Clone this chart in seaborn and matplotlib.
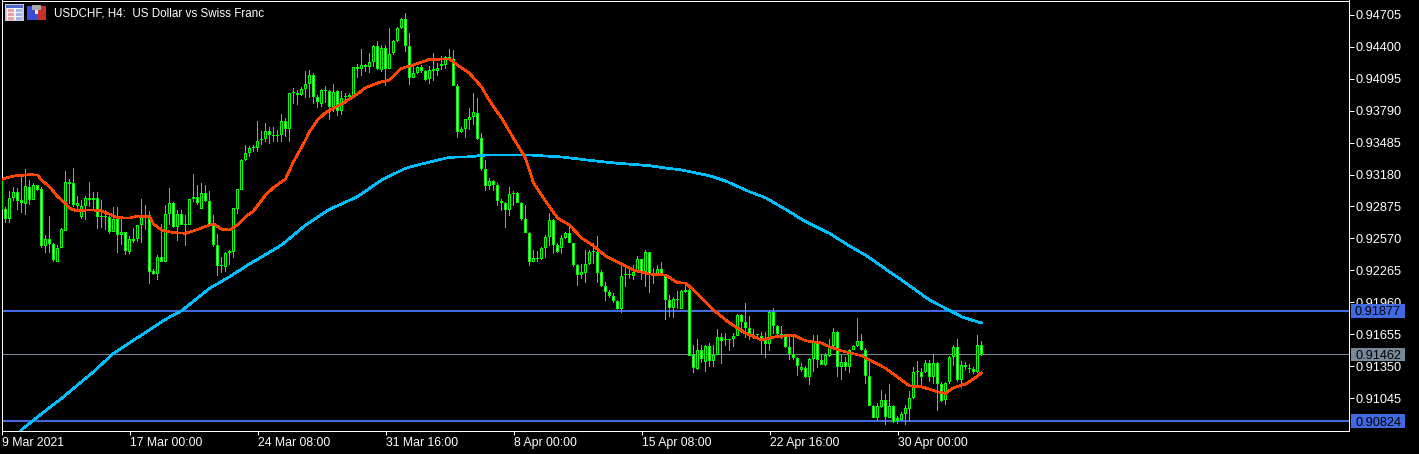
import numpy as np
import pandas as pd
import matplotlib
matplotlib.use("Agg")
import matplotlib.pyplot as plt
from matplotlib.patches import Rectangle
from matplotlib.transforms import blended_transform_factory
import seaborn as sns

# Prices are written in units of 0.0001
highs = [
 9314,9287,9302,9306,9305,9318,9323,9313,9310,9308,
 9306,9260,9278,9253,9251,9267,9321,9314,9324,9298,
 9294,9298,9311,9301,9301,9294,9284,9278,9287,9287,
 9278,9263,9259,9267,9270,9295,9289,9283,9228,9241,
 9271,9289,9305,9292,9284,9284,9279,9295,9319,9308,
 9310,9308,9302,9279,9261,9239,9244,9246,9286,9304,
 9333,9346,9345,9346,9369,9360,9367,9363,9363,9361,
 9376,9372,9396,9401,9399,9402,9417,9418,9415,9394,
 9400,9403,9399,9405,9399,9398,9396,9396,9421,9424,
 9438,9424,9434,9442,9446,9442,9442,9458,9447,9459,
 9468,9472,9453,9423,9422,9423,9418,9422,9434,9425,
 9431,9431,9438,9437,9405,9363,9371,9382,9396,9391,
 9358,9332,9315,9313,9310,9295,9292,9306,9302,9301,
 9292,9289,9263,9246,9245,9249,9260,9281,9276,9253,
 9260,9263,9269,9253,9233,9233,9246,9246,9253,9259,
 9227,9215,9208,9205,9198,9233,9233,9230,9232,9240,
 9237,9246,9244,9229,9232,9234,9221,9203,9201,9207,
 9208,9215,9209,9155,9161,9155,9155,9157,9155,9170,
 9167,9167,9161,9167,9185,9185,9195,9183,9170,9166,
 9168,9168,9189,9191,9174,9173,9166,9164,9166,9144,
 9138,9135,9143,9165,9165,9147,9148,9161,9171,9169,
 9146,9144,9151,9155,9181,9166,9152,9142,9098,9100,
 9112,9108,9118,9098,9087,9091,9098,9111,9134,9140,
 9133,9141,9141,9147,9139,9120,9120,9145,9155,9161,
 9140,9139,9137,9134,9165,9159]
lows = [
 9284,9272,9272,9293,9284,9281,9279,9289,9294,9302,
 9248,9243,9243,9234,9234,9248,9264,9290,9287,9283,
 9276,9275,9287,9283,9266,9267,9265,9261,9263,9243,
 9251,9241,9242,9253,9254,9253,9265,9213,9222,9217,
 9234,9234,9270,9267,9255,9270,9250,9270,9292,9289,
 9285,9292,9268,9249,9221,9224,9225,9232,9238,9280,
 9303,9331,9335,9340,9340,9346,9349,9347,9349,9349,
 9349,9354,9349,9385,9384,9393,9391,9391,9385,9382,
 9383,9386,9370,9378,9374,9375,9385,9389,9392,9410,
 9412,9416,9415,9421,9418,9416,9403,9419,9432,9445,
 9457,9435,9404,9410,9414,9415,9407,9405,9407,9412,
 9418,9419,9428,9403,9353,9358,9353,9361,9365,9351,
 9321,9302,9303,9302,9288,9283,9267,9278,9288,9291,
 9274,9262,9231,9234,9234,9236,9238,9250,9242,9243,
 9242,9256,9253,9230,9212,9218,9214,9232,9233,9214,
 9211,9197,9200,9195,9189,9186,9211,9218,9217,9224,
 9217,9211,9205,9213,9221,9221,9179,9182,9181,9190,
 9190,9205,9145,9128,9131,9138,9129,9134,9134,9146,
 9137,9154,9149,9153,9164,9167,9162,9160,9161,9160,
 9146,9143,9149,9166,9163,9161,9152,9141,9141,9126,
 9129,9124,9117,9129,9133,9136,9135,9144,9153,9125,
 9122,9130,9128,9150,9153,9149,9118,9097,9085,9083,
 9095,9079,9085,9081,9080,9083,9079,9082,9104,9115,
 9115,9128,9120,9118,9092,9101,9098,9118,9135,9120,
 9114,9131,9128,9127,9128,9145]
opens = [
 9284,9285,9276,9296,9301,9294,9290,9306,9294,9308,
 9304,9250,9256,9252,9234,9248,9264,9309,9310,9288,
 9277,9288,9296,9296,9296,9278,9278,9277,9263,9276,
 9260,9263,9244,9256,9256,9270,9277,9279,9226,9223,
 9239,9234,9280,9291,9268,9280,9271,9270,9295,9297,
 9285,9300,9293,9270,9251,9231,9230,9243,9244,9285,
 9303,9332,9339,9343,9343,9351,9352,9360,9356,9355,
 9356,9369,9362,9397,9394,9394,9400,9405,9413,9392,
 9385,9398,9398,9383,9398,9379,9392,9392,9393,9419,
 9419,9423,9421,9426,9441,9418,9439,9419,9434,9446,
 9458,9467,9441,9410,9415,9421,9417,9409,9417,9417,
 9422,9423,9428,9428,9403,9359,9362,9370,9373,9377,
 9353,9323,9307,9312,9308,9293,9291,9284,9299,9300,
 9291,9276,9262,9234,9237,9237,9248,9258,9275,9251,
 9248,9257,9262,9253,9232,9222,9224,9233,9244,9244,
 9225,9212,9206,9202,9197,9190,9222,9222,9221,9225,
 9237,9225,9244,9223,9223,9228,9221,9198,9191,9198,
 9190,9206,9208,9146,9132,9150,9139,9154,9140,9146,
 9163,9160,9160,9161,9164,9184,9177,9171,9165,9165,
 9164,9161,9156,9187,9173,9165,9166,9153,9147,9143,
 9131,9133,9125,9142,9158,9141,9136,9145,9154,9168,
 9134,9139,9134,9150,9154,9159,9150,9126,9097,9085,
 9096,9103,9085,9097,9083,9084,9089,9094,9105,9130,
 9129,9129,9138,9125,9138,9118,9103,9120,9144,9153,
 9122,9136,9132,9132,9129,9155]
closes = [
 9314,9276,9296,9301,9293,9291,9307,9294,9308,9303,
 9250,9256,9252,9236,9248,9266,9311,9311,9289,9291,
 9288,9296,9294,9294,9277,9277,9277,9263,9276,9260,
 9263,9245,9256,9255,9270,9277,9279,9225,9223,9239,
 9234,9280,9291,9268,9280,9270,9270,9295,9297,9291,
 9300,9293,9270,9251,9231,9231,9243,9245,9286,9304,
 9332,9339,9343,9344,9350,9352,9360,9356,9355,9356,
 9369,9362,9396,9396,9396,9400,9405,9413,9392,9387,
 9399,9399,9383,9397,9379,9391,9392,9394,9421,9421,
 9423,9421,9426,9441,9419,9439,9419,9433,9446,9458,
 9467,9441,9410,9415,9421,9417,9408,9418,9419,9420,
 9424,9430,9430,9403,9359,9362,9371,9373,9378,9352,
 9323,9307,9312,9308,9293,9291,9284,9299,9300,9291,
 9276,9262,9234,9238,9237,9248,9258,9275,9251,9244,
 9257,9262,9253,9232,9222,9225,9233,9244,9244,9224,
 9212,9206,9202,9197,9190,9221,9222,9222,9225,9237,
 9225,9244,9223,9224,9228,9221,9198,9191,9199,9199,
 9207,9208,9145,9133,9150,9142,9154,9140,9146,9163,
 9159,9160,9160,9164,9184,9177,9171,9165,9164,9165,
 9160,9156,9187,9173,9166,9166,9153,9147,9143,9135,
 9134,9125,9142,9159,9141,9136,9146,9154,9168,9134,
 9139,9134,9150,9154,9159,9150,9126,9097,9085,9097,
 9103,9086,9097,9082,9085,9089,9095,9105,9129,9129,
 9125,9138,9125,9138,9118,9102,9119,9144,9153,9122,
 9136,9134,9132,9129,9155,9146]

fast_ma_bar = [0,3,7,9,10,12,14,16,17,19,21,23,25,28,29,32,34,37,38,40,43,46,48,52,53,55,57,59,61,63,66,68,71,
               73,76,77,79,81,85,89,91,94,97,100,103,107,112,114,117,120,122,125,128,131,133,137,139,142,145,148,
               151,154,158,162,166,169,171,173,178,182,186,190,193,198,201,205,207,210,215,219,221,224,227,230,
               234,236,238,241,244,245]
fast_ma = [9313.5,9316.6,9317.9,9317.6,9312.8,9306.4,9296.9,9290.5,9285.8,9283.2,9284.1,9284.1,9283.2,9278.7,
           9276.8,9276.5,9278.4,9277.7,9270.8,9265.0,9262.5,9261.9,9264.1,9269.8,9270.8,9265.7,9265.0,9269.8,
           9277.7,9283.2,9298.5,9305.5,9313.8,9330.3,9351.0,9359.0,9370.1,9377.1,9385.4,9395.0,9401.0,9405.5,9408.4,9419.5,
           9422.7,9428.1,9428.4,9422.7,9414.8,9401.7,9388.6,9372.0,9352.7,9333.8,9309.9,9287.3,9276.5,9269.8,
           9257.4,9249.8,9240.2,9234.5,9226.8,9223.0,9222.0,9214.7,9214.4,9207.7,9188.6,9176.2,9166.6,9159.9,
           9162.8,9164.7,9159.3,9157.1,9153.5,9149.7,9144.9,9137.0,9132.9,9124.6,9116.0,9115.3,9110.5,9109.0,
           9114.3,9117.9,9125.5,9128.7]
slow_ma_bar = [4,5,8,15,23,28,35,41,45,52,57,62,65,70,76,82,89,95,101,105,112,117,121,128,132,140,148,154,162,166,
               170,177,181,187,191,196,201,207,212,216,221,225,230,232,236,240,243,245]
slow_ma = [9068.2,9074.0,9083.5,9104.2,9129.6,9147.2,9164.7,9179.7,9187.9,9209.3,9220.4,9232.6,9239.2,9250.7,
           9269.8,9284.8,9296.9,9312.8,9324.0,9328.1,9334.5,9335.0,9336.7,9336.7,9336.7,9334.8,9331.2,9328.8,
           9326.5,9324.3,9322.4,9316.9,9311.9,9301.6,9295.9,9284.8,9273.0,9261.9,9249.7,9241.1,9227.8,9217.3,
           9203.6,9198.2,9190.2,9182.2,9178.4,9176.2]

level_prices = [0.91877, 0.90824]
last_price = 0.91462
price_ticks = [0.94705,0.94400,0.94095,0.93790,0.93485,0.93180,0.92875,0.92570,0.92265,0.91960,0.91655,0.91350,0.91045]
time_tick_bars = [0,32,64,96,128,160,192,224]
time_tick_labels = ["9 Mar 2021","17 Mar 00:00","24 Mar 08:00","31 Mar 16:00","8 Apr 00:00","15 Apr 08:00","22 Apr 16:00","30 Apr 00:00"]
title_text = "USDCHF, H4:  US Dollar vs Swiss Franc"

W, H = 1419, 454
FONT = "Liberation Sans"
sns.set_theme(style="dark", rc={"axes.facecolor": "black", "figure.facecolor": "black"})
plt.rcParams["font.family"] = [FONT, "DejaVu Sans"]

fig = plt.figure(figsize=(W/100, H/100), dpi=100, facecolor="black")
ax = fig.add_axes([1.5/W, 1-430.5/H, 1347/W, 430/H], facecolor="black")

o, h, l, c = [np.array(a)/1e4 for a in (opens, highs, lows, closes)]
bars = np.arange(len(o))
GREEN = "#00FF00"
PX = 0.72             # one pixel in points
PRICE_PX = 0.9555e-4  # one pixel in price
BAR_PX = 0.25         # one pixel in bars

def solid(x, y0, y1, width, color, z):
    ax.bar(x, np.asarray(y1) - np.asarray(y0), bottom=y0, width=width, color=color,
           linewidth=0, edgecolor="none", antialiased=False, zorder=z)

solid(bars, l, h, BAR_PX, GREEN, 3)
top = np.maximum(o, c)
bot = np.minimum(o, c)
top_draw = np.maximum(top, bot + PRICE_PX)
solid(bars, bot, top_draw, 3*BAR_PX, GREEN, 4)
has_inside = (top - bot) > 2.2*PRICE_PX
fills = ["white" if ci < oi else "black" for oi, ci in zip(o[has_inside], c[has_inside])]
solid(bars[has_inside], bot[has_inside] + PRICE_PX, top[has_inside] - PRICE_PX, BAR_PX, fills, 5)

fast_df = pd.DataFrame({"bar": fast_ma_bar, "price": np.array(fast_ma)/1e4})
slow_df = pd.DataFrame({"bar": slow_ma_bar, "price": np.array(slow_ma)/1e4})
sns.lineplot(data=slow_df, x="bar", y="price", color="#00BFFF", lw=1.2, estimator=None, ax=ax, zorder=6)
sns.lineplot(data=fast_df, x="bar", y="price", color="#FF4500", lw=1.2, estimator=None, ax=ax, zorder=7)
for line in ax.lines:
    line.set_antialiased(False)

for p in level_prices:
    ax.axhline(p, color="#4169E1", lw=1.44, zorder=2, antialiased=False)
ax.axhline(last_price, color="#778899", lw=PX, zorder=2, antialiased=False)

ax.set_xlim(0, 1347/4)
ax.set_ylim(9073.5/1e4, 9484.3/1e4)
ax.set_xlabel(""); ax.set_ylabel("")
ax.grid(False)

ax.yaxis.tick_right()
ax.set_yticks(price_ticks)
ax.set_yticklabels([f"{t:.5f}" for t in price_ticks], color="white", fontsize=9.2, va="center_baseline")
ax.tick_params(axis="y", colors="white", length=3.4, width=PX, pad=1.5, direction="out", right=True, left=False)
ax.set_xticks(time_tick_bars)
ax.set_xticklabels(time_tick_labels, color="white", fontsize=8.8, ha="left")
ax.tick_params(axis="x", colors="white", length=3, width=PX, pad=1.5, direction="out", bottom=True)
for s in ax.spines.values():
    s.set_color("white"); s.set_linewidth(PX); s.set_visible(True)

# Boxed price labels on the right axis
tr = blended_transform_factory(ax.transAxes, ax.transData)
x0 = (1351-1.5)/1347
x1 = (1405-1.5)/1347
box_h = 13.7*PRICE_PX
for p, col in [(level_prices[0], "#4169E1"), (level_prices[1], "#4169E1"), (last_price, "#778899")]:
    ax.add_patch(Rectangle((x0, p-box_h/2), x1-x0, box_h, transform=tr, facecolor=col, edgecolor="none",
                           clip_on=False, zorder=8))
    ax.text((x0+x1)/2, p, f"{p:.5f}", transform=tr, color="black", fontsize=9.2, ha="center", va="center_baseline",
            clip_on=False, zorder=9)

fig.text(54/W, 1-13.5/H, title_text, color="white", fontsize=8.4, ha="left", va="center")

# Two toolbar icons at the top-left corner
def px_rect(x, y, w, h_, col):
    fig.add_artist(Rectangle((x/W, 1-(y+h_)/H), w/W, h_/H, transform=fig.transFigure, facecolor=col, edgecolor="none"))
px_rect(5, 4, 19, 17, "#C8CCD8")
px_rect(6, 5, 17, 3, "#4A68C8")
px_rect(7, 8, 15, 12, "#F4F4F4")
for yy in (9, 13, 17):
    px_rect(8, yy, 6, 3, "#F0A0A0")
    px_rect(16, yy, 6, 3, "#A0B4E8")
px_rect(27, 6, 10, 14, "#3A4CD8")
px_rect(37, 6, 9, 14, "#C83028")
px_rect(32, 5, 9, 5, "#A8A8A8")
px_rect(35, 10, 3, 4, "#E8E8E8")

fig.savefig("out.png", dpi=100, facecolor="black")
